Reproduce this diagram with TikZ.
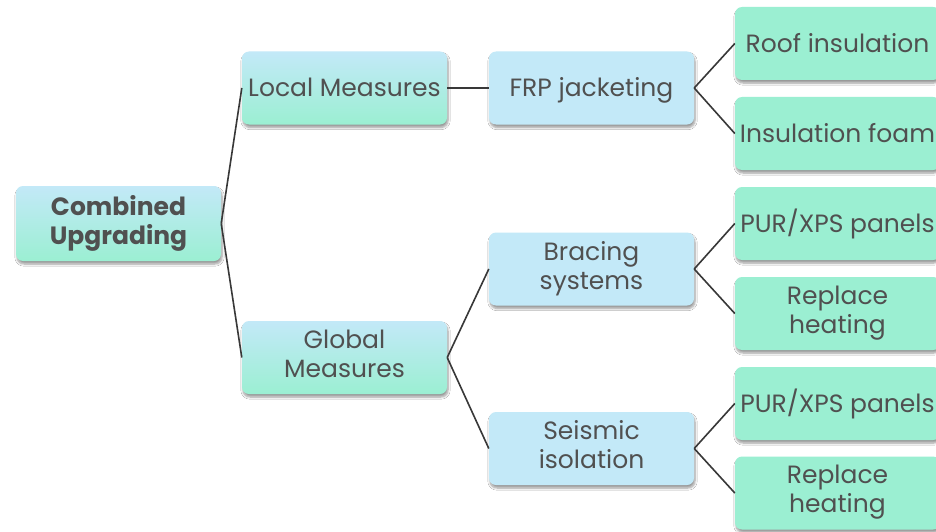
\documentclass[tikz,border=0pt]{standalone}
\usepackage{fontspec}
\setmainfont{Poppins}
\usetikzlibrary{shadows.blur}
\definecolor{lblue}{HTML}{C3E9F8}
\definecolor{mint}{HTML}{9BEFD2}
\definecolor{txt}{HTML}{505050}
\definecolor{ln}{HTML}{383838}
\newcommand{\boxstrut}{\rule[-8pt]{0pt}{34pt}}
\tikzset{
  box/.style={rounded corners=7pt, minimum width=205pt, minimum height=73pt,
    text=txt, font=\fontsize{25}{29}\selectfont, align=center, inner sep=0pt,
    execute at begin node=\boxstrut, execute at end node=\boxstrut,
    blur shadow={shadow xshift=1pt, shadow yshift=-3pt, shadow blur steps=6, shadow opacity=40}},
  gradbox/.style={box, top color=lblue, bottom color=mint, middle color=lblue!50!mint},
  bluebox/.style={box, fill=lblue},
  greenbox/.style={box, fill=mint},
  conn/.style={draw=ln, line width=1.6pt}
}
\begin{document}
\begin{tikzpicture}[x=1pt,y=-1pt]
\path[use as bounding box, fill=white] (0,0) rectangle (936,532);
\clip (0,0) rectangle (936,532);
\node[gradbox, minimum height=75pt, font=\fontsize{25}{29}\selectfont\bfseries] (comb) at (118.5,223.5) {Combined\\Upgrading};
\node[gradbox] (local) at (344.5,88) {Local Measures};
\node[bluebox] (frp) at (591.5,88) {FRP jacketing};
\node[greenbox] (roof) at (837.5,43.5) {Roof insulation};
\node[greenbox] (foam) at (837.5,133.5) {Insulation foam};
\node[gradbox] (global) at (344.5,357.5) {Global\\Measures};
\node[bluebox] (brace) at (591.5,269) {Bracing\\systems};
\node[bluebox] (seis) at (591.5,448.5) {Seismic\\isolation};
\node[greenbox] (pur1) at (837.5,223.5) {PUR/XPS panels};
\node[greenbox] (rep1) at (837.5,313.5) {Replace\\heating};
\node[greenbox] (pur2) at (837.5,403.5) {PUR/XPS panels};
\node[greenbox] (rep2) at (837.5,493) {Replace\\heating};
\draw[conn] (comb.east) -- (local.west);
\draw[conn] (comb.east) -- (global.west);
\draw[conn] (local.east) -- (frp.west);
\draw[conn] (frp.east) -- (roof.west);
\draw[conn] (frp.east) -- (foam.west);
\draw[conn] (global.east) -- (brace.west);
\draw[conn] (global.east) -- (seis.west);
\draw[conn] (brace.east) -- (pur1.west);
\draw[conn] (brace.east) -- (rep1.west);
\draw[conn] (seis.east) -- (pur2.west);
\draw[conn] (seis.east) -- (rep2.west);
\end{tikzpicture}
\end{document}
